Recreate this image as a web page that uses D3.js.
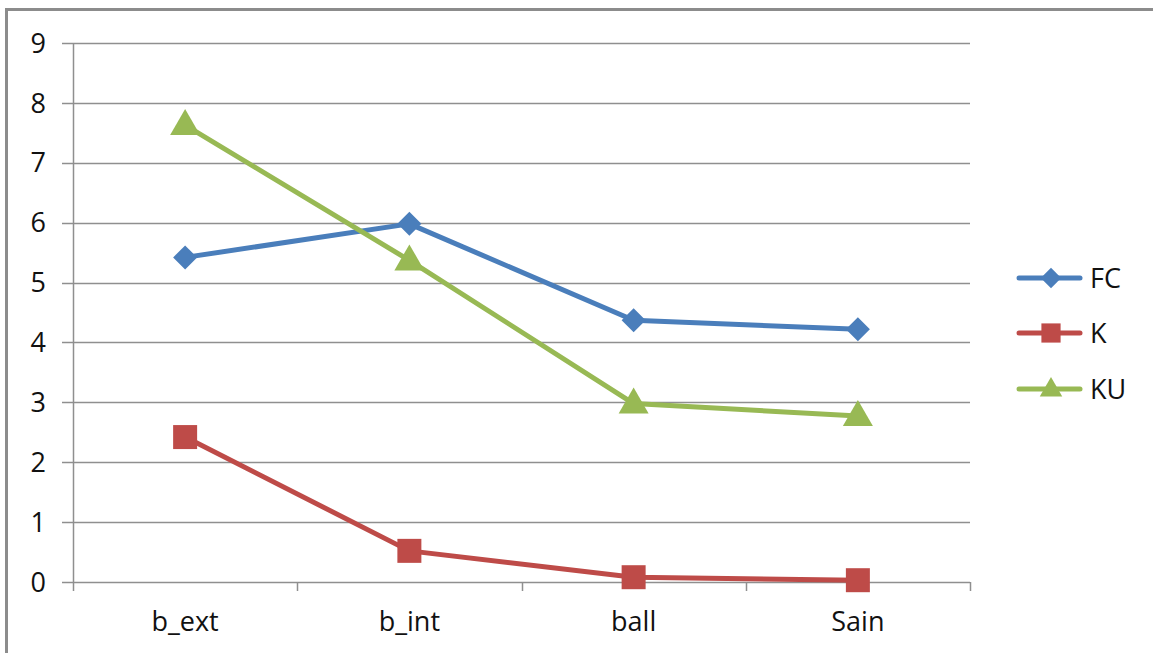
<!DOCTYPE html>
<html>
<head>
<meta charset="utf-8">
<script src="https://cdn.jsdelivr.net/npm/d3@7"></script>
<style>
  html, body { margin: 0; padding: 0; background: #fff; }
  svg { display: block; }
  text { font-family: "Open Sans", Lato, sans-serif; fill: #111; }
</style>
</head>
<body>
<svg id="chart" width="1153" height="653"></svg>
<script>
const categories = ["b_ext", "b_int", "ball", "Sain"];
const seriesNames = ["FC", "K", "KU"];
const fcValues = [5.42, 5.98, 4.37, 4.22];
const kValues = [2.42, 0.52, 0.08, 0.03];
const kuValues = [7.63, 5.37, 2.98, 2.77];
const yTicks = [0, 1, 2, 3, 4, 5, 6, 7, 8, 9];

const series = [
  { name: seriesNames[0], values: fcValues, color: "#4A7EBB", symbol: "diamond" },
  { name: seriesNames[1], values: kValues, color: "#BE4B48", symbol: "square" },
  { name: seriesNames[2], values: kuValues, color: "#98B954", symbol: "triangle" }
];

const svg = d3.select("#chart");
const plot = { left: 73, right: 970, top: 43, bottom: 582 };
const fontSize = 27;

// outer chart frame
svg.append("rect")
  .attr("x", 6.5).attr("y", 9.5)
  .attr("width", 1160).attr("height", 660)
  .attr("fill", "#fff").attr("stroke", "#8c8c8c").attr("stroke-width", 3);

const x = d3.scaleBand().domain(categories).range([plot.left, plot.right]);
const y = d3.scaleLinear().domain([0, 9]).range([plot.bottom, plot.top]);

// horizontal gridlines
svg.append("g")
  .selectAll("line").data(yTicks).join("line")
  .attr("x1", plot.left - 11).attr("x2", plot.right)
  .attr("y1", d => Math.round(y(d)) + 0.5).attr("y2", d => Math.round(y(d)) + 0.5)
  .attr("stroke", "#8f8f8f").attr("stroke-width", 1.5);

// y axis line
svg.append("line")
  .attr("x1", plot.left + 0.5).attr("x2", plot.left + 0.5)
  .attr("y1", plot.top).attr("y2", plot.bottom + 9)
  .attr("stroke", "#8f8f8f").attr("stroke-width", 1.5);

// category tick marks between bands
const boundaries = categories.slice(1).map(c => x(c)).concat([plot.right]);
svg.append("g")
  .selectAll("line").data(boundaries).join("line")
  .attr("x1", d => Math.round(d) + 0.5).attr("x2", d => Math.round(d) + 0.5)
  .attr("y1", plot.bottom).attr("y2", plot.bottom + 9)
  .attr("stroke", "#8f8f8f").attr("stroke-width", 1.5);

// y tick labels
svg.append("g")
  .selectAll("text").data(yTicks).join("text")
  .attr("x", 46).attr("y", d => y(d))
  .attr("dy", "0.36em").attr("text-anchor", "end")
  .attr("font-size", fontSize)
  .text(d => d);

// category labels
svg.append("g")
  .selectAll("text").data(categories).join("text")
  .attr("x", d => x(d) + x.bandwidth() / 2).attr("y", 621)
  .attr("dy", "0.36em").attr("text-anchor", "middle")
  .attr("font-size", fontSize)
  .text(d => d);

function symbolPath(s) {
  if (s === "diamond") return "M0,-12L12,0L0,12L-12,0Z";
  if (s === "square") return "M-12,-12H12V12H-12Z";
  return "M0,-16L15,10H-15Z";
}

const cx = d => x(d) + x.bandwidth() / 2;
const line = d3.line().x(d => cx(d.cat)).y(d => y(d.v));

series.forEach(s => {
  const pts = categories.map((c, i) => ({ cat: c, v: s.values[i] }));
  const g = svg.append("g");
  g.append("path")
    .attr("d", line(pts))
    .attr("fill", "none").attr("stroke", s.color)
    .attr("stroke-width", 5).attr("stroke-linejoin", "round").attr("stroke-linecap", "round");
  g.selectAll("path.m").data(pts).join("path").attr("class", "m")
    .attr("transform", d => `translate(${cx(d.cat)},${y(d.v)})`)
    .attr("d", symbolPath(s.symbol))
    .attr("fill", s.color);
});

// legend
const legendY = [278, 333, 389];
const legend = svg.append("g");
series.forEach((s, i) => {
  const gy = legendY[i];
  legend.append("line")
    .attr("x1", 1019).attr("x2", 1080).attr("y1", gy).attr("y2", gy)
    .attr("stroke", s.color).attr("stroke-width", 5).attr("stroke-linecap", "round");
  const scale = s.symbol === "diamond" ? 0.85 : (s.symbol === "square" ? 0.8 : 0.75);
  legend.append("path")
    .attr("transform", `translate(1051,${gy}) scale(${scale})`)
    .attr("d", symbolPath(s.symbol))
    .attr("fill", s.color);
  legend.append("text")
    .attr("x", 1090).attr("y", gy).attr("dy", "0.36em")
    .attr("font-size", fontSize)
    .text(s.name);
});
</script>
</body>
</html>
